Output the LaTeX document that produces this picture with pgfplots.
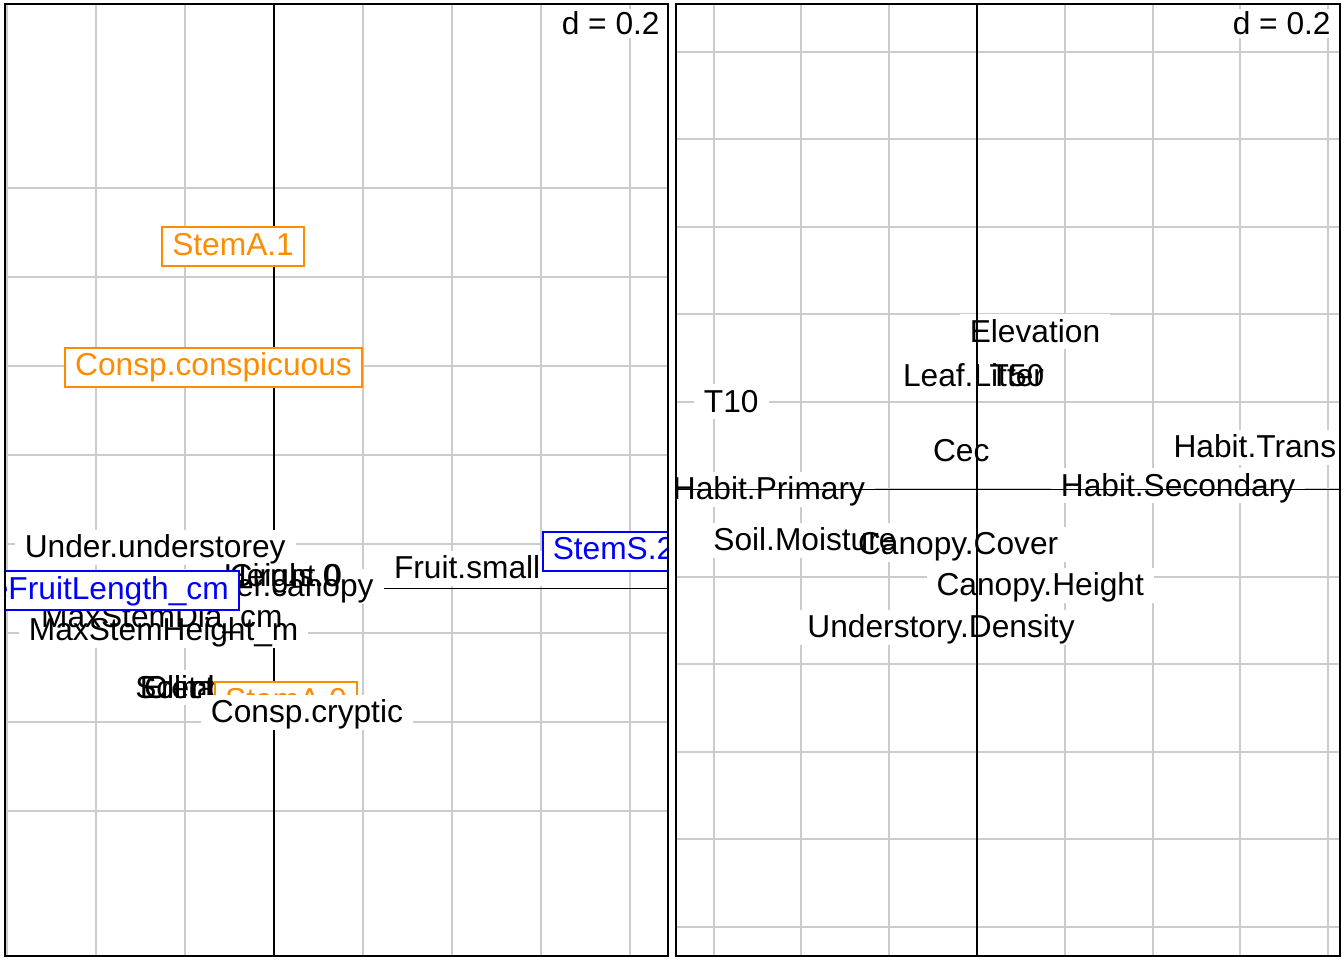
\documentclass[border=0pt]{standalone}
\usepackage{fontspec}
\setmainfont{Liberation Sans}
\usepackage{pgfplots}
\pgfplotsset{compat=1.18}
\definecolor{gridc}{RGB}{204,204,204}
\definecolor{dorange}{RGB}{255,140,0}
\definecolor{pblue}{RGB}{0,0,255}
\tikzset{lblfont/.style={font=\fontsize{15.85pt}{19pt}\selectfont}}
\pgfplotsset{
  panel/.style={scale only axis, anchor=south west,
    axis line style={draw=none}, grid=major,
    grid style={gridc, line width=1pt}, major tick length=0pt,
    xticklabels={}, yticklabels={}, clip=true},
  % framed (coloured) labels
  boxpass/.style={only marks, mark=*, mark size=0pt,
    mark options={draw=none, fill=none},
    point meta=explicit symbolic,
    nodes near coords={\phantom{\pgfplotspointmeta}},
    nodes near coords style={anchor=center, lblfont, text height=12.5pt,
      text depth=4pt, inner xsep=5pt, inner ysep=1.5pt, fill=white, #1}},
  boxpass/.default={},
  textpass/.style={only marks, mark=*, mark size=0pt,
    mark options={draw=none, fill=none},
    point meta=explicit symbolic,
    nodes near coords,
    nodes near coords style={anchor=center, lblfont, text height=12.5pt,
      text depth=4pt, inner xsep=5pt, inner ysep=1.5pt, text=#1}},
  textpass/.default=black,
  % plain black labels (white background, no frame)
  bboxpass/.style={only marks, mark=*, mark size=0pt,
    mark options={draw=none, fill=none},
    point meta=explicit symbolic,
    nodes near coords={\phantom{\pgfplotspointmeta}},
    nodes near coords style={anchor=center, lblfont, text height=12.5pt,
      text depth=2pt, inner xsep=5pt, inner ysep=1.5pt, fill=white}},
  btextpass/.style={only marks, mark=*, mark size=0pt,
    mark options={draw=none, fill=none},
    point meta=explicit symbolic,
    nodes near coords,
    nodes near coords style={anchor=center, lblfont, text height=12.5pt,
      text depth=2pt, inner xsep=5pt, inner ysep=1.5pt, text=black}},
}
\begin{document}
\begin{tikzpicture}
% ---------------- left panel ----------------
\begin{scope}
\clip (2.5pt,2pt) rectangle (334pt,478pt);
\begin{axis}[panel, at={(2.5pt,2pt)}, width=331.5pt, height=476pt,
  xmin=-0.6045, xmax=0.8854, ymin=-0.827, ymax=1.3147,
  xtick={-0.6,-0.4,-0.2,0,0.2,0.4,0.6,0.8},
  ytick={-0.5,-0.3,-0.1,0.1,0.3,0.5,0.7,0.9}]
  \addplot[black, line width=0.75pt] coordinates {(-1,0) (1,0)};
  \addplot[black, line width=0.75pt] coordinates {(0,-1) (0,1.5)};
  % black labels
  \addplot[bboxpass] table[x=x, y=y, meta=label] {
x y label
-0.267 0.092 Under.understorey
0.434 0.045 Fruit.small
-0.252 -0.065 MaxStemDia\_cm
-0.248 -0.094 MaxStemHeight\_m
0.020 0.027 Height.0
0.025 0.027 Cirrus.0
0.004 0.005 Under.canopy
-0.193 -0.223 Solitary
-0.218 -0.223 Erect
-0.169 -0.223 Climber
};
  \addplot[btextpass] table[x=x, y=y, meta=label] {
x y label
-0.267 0.092 Under.understorey
0.434 0.045 Fruit.small
-0.252 -0.065 MaxStemDia\_cm
-0.248 -0.094 MaxStemHeight\_m
0.020 0.027 Height.0
0.025 0.027 Cirrus.0
0.004 0.005 Under.canopy
-0.193 -0.223 Solitary
-0.218 -0.223 Erect
-0.169 -0.223 Climber
};
  % orange labels
  \addplot[boxpass={draw=dorange, line width=1pt}] table[x=x, y=y, meta=label] {
x y label
-0.092 0.769 StemA.1
-0.136 0.498 Consp.conspicuous
0.027 -0.255 StemA.0
};
  \addplot[textpass=dorange] table[x=x, y=y, meta=label] {
x y label
-0.092 0.769 StemA.1
-0.136 0.498 Consp.conspicuous
0.027 -0.255 StemA.0
};
  % blue labels
  \addplot[boxpass={draw=pblue, line width=1pt}] table[x=x, y=y, meta=label] {
x y label
-0.410 -0.005 AveFruitLength\_cm
0.763 0.084 StemS.2
};
  \addplot[textpass=pblue] table[x=x, y=y, meta=label] {
x y label
-0.410 -0.005 AveFruitLength\_cm
0.763 0.084 StemS.2
};
  % last black label
  \addplot[bboxpass] table[x=x, y=y, meta=label] {
x y label
0.074 -0.279 Consp.cryptic
};
  \addplot[btextpass] table[x=x, y=y, meta=label] {
x y label
0.074 -0.279 Consp.cryptic
};
\end{axis}
\end{scope}
\draw[line width=1pt] (2.5pt,2pt) rectangle (334pt,478pt);
\node[lblfont, anchor=base east, fill=white, inner xsep=1pt, inner ysep=1.5pt]
  at (331pt,462.5pt) {d = 0.2};
% ---------------- right panel ----------------
\begin{scope}
\clip (338pt,2pt) rectangle (670pt,478pt);
\begin{axis}[panel, at={(338pt,2pt)}, width=332pt, height=476pt,
  xmin=-0.6858, xmax=0.827, ymin=-1.0663, ymax=1.1097,
  xtick={-0.6,-0.4,-0.2,0,0.2,0.4,0.6,0.8},
  ytick={-1,-0.8,-0.6,-0.4,-0.2,0,0.2,0.4,0.6,0.8,1}]
  \addplot[bboxpass] table[x=x, y=y, meta=label] {
x y label
0.132 0.361 Elevation
-0.008 0.259 Leaf.Litter
0.091 0.259 T50
-0.560 0.201 T10
-0.036 0.087 Cec
0.633 0.096 Habit.Trans
-0.474 0.000 Habit.Primary
0.458 0.009 Habit.Secondary
-0.392 -0.116 Soil.Moisture
-0.043 -0.125 Canopy.Cover
0.144 -0.219 Canopy.Height
-0.082 -0.315 Understory.Density
};
  \addplot[btextpass] table[x=x, y=y, meta=label] {
x y label
0.132 0.361 Elevation
-0.008 0.259 Leaf.Litter
0.091 0.259 T50
-0.560 0.201 T10
-0.036 0.087 Cec
0.633 0.096 Habit.Trans
-0.474 0.000 Habit.Primary
0.458 0.009 Habit.Secondary
-0.392 -0.116 Soil.Moisture
-0.043 -0.125 Canopy.Cover
0.144 -0.219 Canopy.Height
-0.082 -0.315 Understory.Density
};
\end{axis}
% origin lines of the right panel, drawn over the labels
\draw[black, line width=0.75pt] (338pt,235.25pt) -- (670pt,235.25pt);
\draw[black, line width=0.75pt] (488.5pt,2pt) -- (488.5pt,478pt);
\end{scope}
\draw[line width=1pt] (338pt,2pt) rectangle (670pt,478pt);
\node[lblfont, anchor=base east, fill=white, inner xsep=1pt, inner ysep=1.5pt]
  at (666.5pt,462.5pt) {d = 0.2};
\pgfresetboundingbox
\useasboundingbox (0,0) rectangle (672pt,480pt);
\end{tikzpicture}
\end{document}
